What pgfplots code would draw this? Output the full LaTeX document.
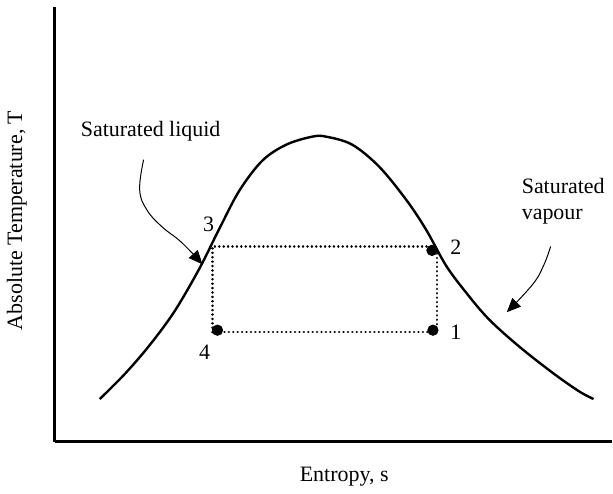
\documentclass[border=0pt]{standalone}
\usepackage{pgfplots}
\pgfplotsset{compat=1.18}
\usepackage{fontspec}
\setmainfont{Liberation Serif}
\usetikzlibrary{arrows.meta}
\begin{document}
\begin{tikzpicture}[every node/.style={font=\fontsize{11}{13}\selectfont}]
\begin{axis}[
  width=279pt, height=218pt, scale only axis,
  xmin=55, xmax=613, ymin=50, ymax=486,
  axis x line=bottom, axis y line=left,
  axis line style={-, line width=1.5pt},
  ticks=none, clip=false]
% invisible frame to fix the picture size
\path (axis cs:0,0) rectangle (axis cs:613,493);
% saturation dome
\addplot[line width=1.2pt, smooth, tension=0.55] coordinates {
 (100,93) (125,118) (150,147) (175,181) (200,224) (220,264)
 (240,302) (263,332) (287,348) (313,356) (327,356) (353,348) (380,326)
 (407,293) (427,263) (447,227) (467,200) (490,173) (520,146) (553,120)
 (580,101) (595,93)};
% dotted cycle
\addplot[line width=1.3pt, line cap=round, dash pattern=on 0.01pt off 2.2pt] coordinates {
 (213,160) (213,246) (438,246) (438,160) (213,160)};
% state points
\addplot[only marks, mark=*, mark size=2.6pt, black] coordinates {
 (218,162) (434,162) (433,242)};
% labels
\node at (axis cs:209,268) {3};
\node at (axis cs:205,140) {4};
\node at (axis cs:457,245) {2};
\node at (axis cs:457,160) {1};
\node at (axis cs:151,361) {Saturated liquid};
\node[anchor=west, align=left] at (axis cs:516,291) {Saturated\\vapour};
\node at (axis cs:345,15) {Entropy, s};
\node[rotate=90] at (axis cs:17,272) {Absolute Temperature, T};
% arrows
\draw[line width=0.5pt, -{Triangle[length=7pt,width=6pt]}] plot[smooth, tension=0.7] coordinates {
 (axis cs:144,333) (axis cs:140,303) (axis cs:147,283) (axis cs:162,266) (axis cs:182,250) (axis cs:203,228)};
\draw[line width=0.5pt, -{Triangle[length=7pt,width=6pt]}] plot[smooth, tension=0.7] coordinates {
 (axis cs:552,246) (axis cs:545,227) (axis cs:534,208) (axis cs:508,180)};
\end{axis}
\end{tikzpicture}
\end{document}
